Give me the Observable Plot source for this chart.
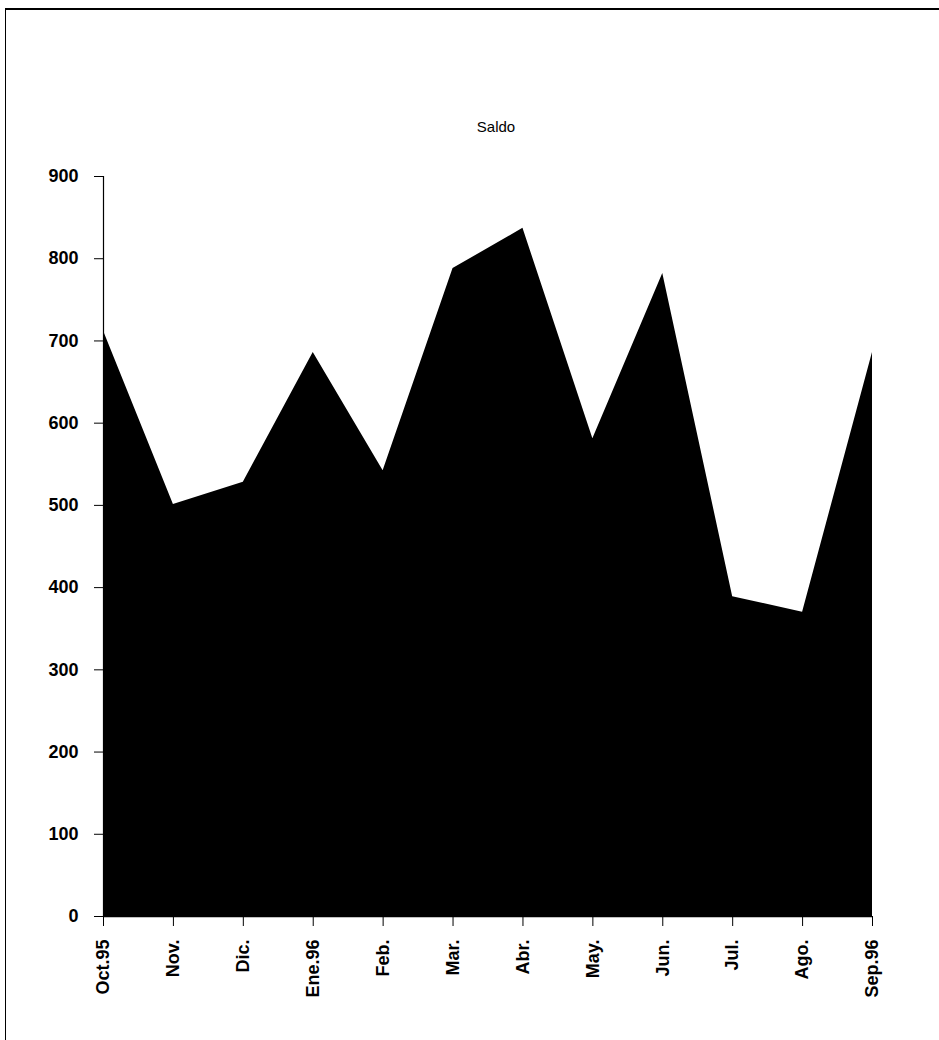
<!DOCTYPE html>
<html>
<head>
<meta charset="utf-8">
<script src="https://cdn.jsdelivr.net/npm/d3@7"></script>
<script src="https://cdn.jsdelivr.net/npm/@observablehq/plot@0.6"></script>
<style>
  html, body { margin: 0; padding: 0; background: #fff; }
  #wrap { position: relative; width: 939px; height: 1040px; overflow: hidden; font-family: "Liberation Sans", Arial, sans-serif; }
  #frame { position: absolute; left: 5px; top: 8px; width: 960px; height: 1100px; border-top: 2px solid #000; border-left: 1.5px solid #000; box-sizing: border-box; }
  #title { position: absolute; left: 0; width: 992px; top: 118px; text-align: center; font-size: 15px; color: #000; }
  #chart { position: absolute; left: 0; top: 0; }
  #chart svg text { font-size: 18px; font-weight: bold; }
</style>
</head>
<body>
<div id="wrap">
  <div id="frame"></div>
  <div id="title">Saldo</div>
  <div id="chart"></div>
</div>
<script>
const titleText = "Saldo";
const months = ["Oct.95","Nov.","Dic.","Ene.96","Feb.","Mar.","Abr.","May.","Jun.","Jul.","Ago.","Sep.96"];
const saldo = [712, 501, 528, 686, 542, 788, 837, 581, 782, 389, 370, 686];
const yTicks = [0, 100, 200, 300, 400, 500, 600, 700, 800, 900];

document.getElementById("title").textContent = titleText;
const data = months.map((m, i) => ({month: m, value: saldo[i]}));

const chart = Plot.plot({
  width: 939,
  height: 1040,
  marginTop: 176,
  marginBottom: 124,
  marginLeft: 103,
  marginRight: 67,
  style: {fontFamily: "'Liberation Sans', Arial, sans-serif", fontSize: "18px", color: "#000", background: "transparent"},
  x: {type: "point", domain: months, padding: 0, round: false},
  y: {domain: [0, 900]},
  marks: [
    Plot.areaY(data, {x: "month", y: "value", fill: "#000"}),
    Plot.ruleY([0], {stroke: "#000", strokeWidth: 1.5}),
    Plot.ruleX([months[0]], {y1: 0, y2: 900, stroke: "#000", strokeWidth: 1.2}),
    Plot.axisY({ticks: yTicks, tickSize: 9, tickPadding: 16, label: null, stroke: "#000", fontSize: 18}),
    Plot.axisX({tickSize: 10, tickPadding: 13, tickRotate: -90, label: null, stroke: "#000", fontSize: 18})
  ]
});
document.getElementById("chart").appendChild(chart);
</script>
</body>
</html>
